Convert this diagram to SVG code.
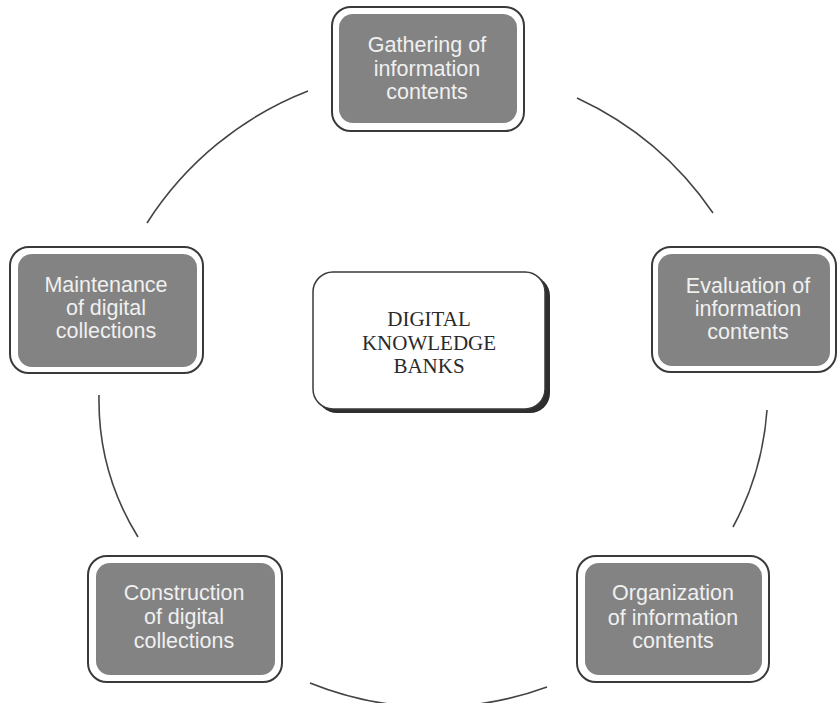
<svg xmlns="http://www.w3.org/2000/svg" width="838" height="703" viewBox="0 0 838 703">
<style>
.outer{fill:#ffffff;stroke:#3a3a3a;stroke-width:2}
.inner{fill:#838383;stroke:none}
.lbl{font-family:"Liberation Sans",Arial,sans-serif;font-size:21.5px;fill:#f0f0f0;text-anchor:middle}
.ctr{font-family:"Liberation Serif","Times New Roman",serif;font-size:21px;fill:#2a2a2a;text-anchor:middle}
.arc{fill:none;stroke:#444444;stroke-width:1.6}
</style>
<rect width="838" height="703" fill="#ffffff"/>
<g id="connectors">
<path class="arc" d="M147,223 A335,335 0 0 1 308,91"/>
<path class="arc" d="M577,98 A335,335 0 0 1 713,213"/>
<path class="arc" d="M767,410 A290,290 0 0 1 733,527"/>
<path class="arc" d="M547,687 A330,330 0 0 1 310,683"/>
<path class="arc" d="M138,537 A260,260 0 0 1 99,395"/>
</g>
<g id="center">
<rect x="317" y="276" width="233" height="137" rx="20" fill="#2e2e2e"/>
<rect x="313" y="272" width="232" height="137" rx="20" fill="#ffffff" stroke="#3a3a3a" stroke-width="1.5"/>
<text class="ctr" x="429" y="326">DIGITAL</text>
<text class="ctr" x="429" y="350">KNOWLEDGE</text>
<text class="ctr" x="429" y="373">BANKS</text>
</g>
<g id="gathering">
<rect class="outer" x="332" y="7" width="192" height="124" rx="19"/>
<rect class="inner" x="339" y="14" width="178" height="109" rx="14"/>
<text class="lbl" x="427" y="52">Gathering of</text>
<text class="lbl" x="427" y="75.5">information</text>
<text class="lbl" x="427" y="99">contents</text>
</g>
<g id="evaluation">
<rect class="outer" x="652" y="247" width="184" height="125" rx="19"/>
<rect class="inner" x="658" y="254" width="172" height="112" rx="14"/>
<text class="lbl" x="748" y="293">Evaluation of</text>
<text class="lbl" x="748" y="316">information</text>
<text class="lbl" x="748" y="339">contents</text>
</g>
<g id="organization">
<rect class="outer" x="577" y="556" width="192" height="126" rx="19"/>
<rect class="inner" x="585" y="563" width="177" height="112" rx="14"/>
<text class="lbl" x="673" y="600">Organization</text>
<text class="lbl" x="673" y="624.5">of information</text>
<text class="lbl" x="673" y="648">contents</text>
</g>
<g id="construction">
<rect class="outer" x="88" y="556" width="194" height="126" rx="19"/>
<rect class="inner" x="96" y="563" width="179" height="112" rx="14"/>
<text class="lbl" x="184" y="600">Construction</text>
<text class="lbl" x="184" y="624">of digital</text>
<text class="lbl" x="184" y="648">collections</text>
</g>
<g id="maintenance">
<rect class="outer" x="10" y="247" width="193" height="126" rx="19"/>
<rect class="inner" x="18" y="254" width="179" height="113" rx="14"/>
<text class="lbl" x="106" y="292">Maintenance</text>
<text class="lbl" x="106" y="315">of digital</text>
<text class="lbl" x="106" y="338">collections</text>
</g>
</svg>
